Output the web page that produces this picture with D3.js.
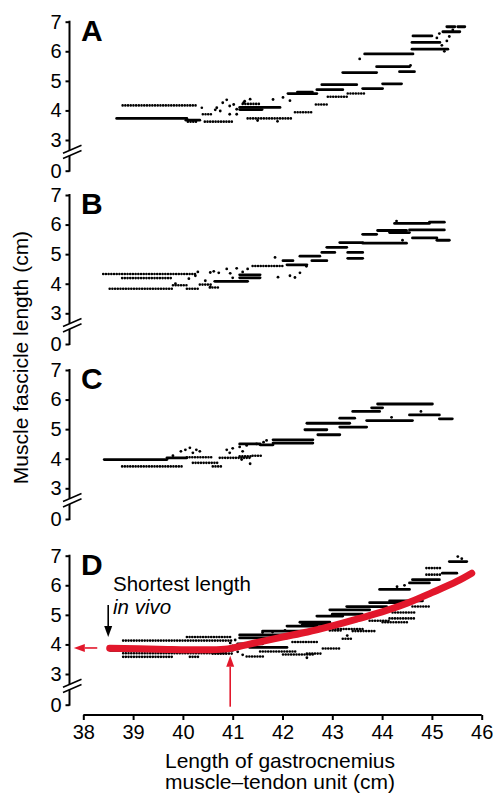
<!DOCTYPE html>
<html>
<head>
<meta charset="utf-8">
<script src="https://cdn.jsdelivr.net/npm/d3@7"></script>
<style>
    body { margin: 0; background: #fff; }
    text { font-family: "Liberation Sans", Arial, Helvetica, sans-serif; }
</style>
</head>
<body>
<script>
// x / y tick labels
const xTicks = [38, 39, 40, 41, 42, 43, 44, 45, 46];
const yTicks = [0, 3, 4, 5, 6, 7];
const panelNames = ["A", "B", "C", "D"];

const runsA = [[38.79, 40.28, 4.17], [40.38, 40.38, 4.09], [40.40, 40.60, 3.87], [40.44, 41.00, 3.62],
    [41.30, 42.21, 3.73], [42.25, 42.61, 3.94], [42.67, 42.91, 4.20], [42.91, 43.31, 4.46], [43.31, 43.65, 4.57],
    [40.10, 40.30, 3.62], [41.20, 41.55, 4.22]];
const bandsA = [[38.67, 40.08, 3.73], [40.06, 40.34, 3.67], [41.14, 41.95, 4.10], [41.14, 41.59, 4.03],
    [42.11, 42.69, 4.57], [42.69, 43.21, 4.70], [42.79, 43.49, 4.87], [43.61, 44.01, 4.74], [44.01, 44.39, 4.90],
    [43.21, 43.89, 5.28], [43.89, 44.55, 5.48], [44.35, 44.65, 5.31], [43.65, 44.62, 5.91], [44.60, 45.32, 6.07],
    [44.60, 45.16, 6.30], [44.62, 45.00, 6.52], [45.22, 45.56, 6.66], [45.30, 45.46, 6.83], [45.52, 45.66, 6.83],
    [42.30, 42.60, 4.62]];
const dotsA = [[40.68, 4.09], [40.80, 4.26], [40.94, 4.15], [41.08, 4.04], [41.22, 4.26], [40.94, 3.87], [41.08, 3.87],
    [40.65, 4.02], [40.88, 4.36], [41.24, 4.31], [41.35, 4.38], [41.81, 4.37], [42.01, 4.44], [42.15, 4.33],
    [43.55, 5.74], [44.57, 5.52], [45.10, 6.45], [45.20, 6.20], [45.25, 6.00], [45.15, 6.60], [45.30, 6.35],
    [41.90, 3.63], [41.50, 3.66], [40.75, 3.98], [41.02, 4.20], [45.35, 6.50], [45.42, 6.72]];

const runsB = [[38.40, 40.28, 4.33], [38.78, 39.80, 4.19], [38.53, 39.80, 3.83], [39.80, 40.08, 3.95],
    [40.08, 40.34, 3.83], [40.34, 40.60, 3.97], [40.54, 40.74, 3.87], [41.40, 42.01, 4.60]];
const bandsB = [[40.64, 41.30, 4.08], [41.14, 41.55, 4.30], [41.14, 41.55, 4.20], [42.01, 42.21, 4.78],
    [42.35, 42.75, 4.93], [42.59, 42.89, 4.78], [42.79, 43.05, 5.06], [42.89, 43.29, 5.23], [43.15, 43.61, 5.39],
    [43.31, 43.61, 5.06], [43.31, 43.61, 4.86], [43.61, 43.89, 5.67], [43.61, 44.49, 5.37], [43.91, 44.49, 5.80],
    [44.15, 44.55, 5.73], [44.25, 44.95, 6.04], [44.95, 45.25, 6.08], [44.55, 45.25, 5.82], [44.61, 45.10, 5.55],
    [45.10, 45.35, 5.47], [42.09, 42.49, 4.64]];
const dotsB = [[39.85, 4.00], [40.12, 4.17], [40.25, 4.27], [40.45, 4.10], [40.55, 4.38], [40.62, 4.42], [40.72, 4.37],
    [40.55, 3.89], [40.88, 4.50], [41.08, 4.52], [41.00, 4.20], [41.30, 4.50], [41.85, 4.89], [41.91, 4.22],
    [42.15, 4.27], [42.25, 4.21], [42.35, 4.37], [42.48, 4.59], [44.41, 5.47], [44.29, 6.12], [40.30, 4.40],
    [40.95, 4.35], [41.20, 4.40]];

const runsC = [[38.78, 40.00, 3.74], [40.08, 40.60, 4.05], [40.20, 40.74, 3.86], [40.60, 40.80, 3.74],
    [40.74, 41.34, 4.03], [41.14, 41.40, 4.08], [41.40, 41.61, 4.10]];
const bandsC = [[38.42, 39.68, 3.97], [39.68, 40.08, 4.03], [41.14, 41.55, 4.50], [41.55, 41.81, 4.47],
    [41.81, 42.61, 4.64], [41.81, 42.61, 4.53], [42.45, 42.89, 4.98], [42.49, 43.35, 5.20], [42.71, 43.15, 4.81],
    [43.15, 43.69, 5.07], [43.15, 43.45, 5.37], [43.41, 43.95, 5.60], [43.69, 44.61, 5.29], [43.91, 45.01, 5.85],
    [43.79, 44.01, 5.72], [44.55, 45.15, 5.48], [45.15, 45.41, 5.35]];
const dotsC = [[39.80, 4.10], [39.96, 4.25], [40.05, 4.30], [40.14, 4.37], [40.20, 4.20], [40.27, 4.30], [40.34, 4.25],
    [40.88, 4.30], [41.00, 4.35], [41.14, 4.40], [41.28, 4.45], [40.94, 4.20], [41.20, 4.25], [41.18, 3.97],
    [41.35, 3.83], [41.48, 4.50], [41.62, 4.56], [41.68, 4.62], [44.19, 5.40], [44.78, 5.60]];

const runsD = [[38.80, 41.00, 4.13], [38.80, 39.80, 3.58], [40.14, 40.34, 3.58], [40.60, 41.00, 3.69],
    [40.08, 41.00, 4.25], [41.28, 41.61, 3.59], [42.01, 42.61, 3.66], [42.49, 42.81, 3.69], [42.81, 43.15, 3.86],
    [43.21, 43.41, 4.19], [43.01, 43.61, 4.52], [43.41, 43.89, 4.45], [42.95, 43.21, 4.47], [43.75, 44.15, 4.80],
    [44.01, 44.55, 4.75], [44.15, 44.69, 4.88], [44.61, 44.95, 5.28], [44.21, 44.69, 5.08], [44.89, 45.21, 6.36],
    [44.89, 45.21, 6.58], [38.80, 40.90, 3.70], [41.55, 42.30, 3.76], [42.20, 42.70, 4.08]];
const bandsD = [[38.54, 41.00, 3.80], [41.14, 42.09, 4.22], [41.14, 42.09, 4.32], [42.09, 42.69, 4.62],
    [42.35, 42.95, 4.75], [42.69, 43.21, 4.96], [42.95, 43.75, 5.17], [43.29, 44.09, 5.28], [43.75, 44.41, 5.41],
    [44.15, 44.81, 5.47], [43.95, 44.55, 5.86], [44.55, 44.95, 6.08], [44.61, 45.15, 6.19], [45.21, 45.50, 6.41],
    [45.35, 45.70, 6.80], [41.34, 42.09, 3.90], [41.60, 42.40, 4.45], [42.40, 43.00, 4.68], [43.00, 43.60, 5.02],
    [41.10, 41.60, 4.02]];
const dotsD = [[45.52, 6.97], [45.60, 6.90], [41.00, 3.95], [41.10, 3.75], [41.20, 3.65], [42.49, 3.55], [43.30, 4.30],
    [44.45, 6.00], [41.60, 4.40], [41.80, 4.42], [42.05, 4.47], [40.95, 4.05], [41.05, 4.15], [44.30, 5.95]];

// fitted curve in panel D
const fitD = [[38.53, 3.87], [39.5, 3.84], [40.5, 3.82], [40.9, 3.85], [41.2, 3.96], [41.5, 4.07], [42.0, 4.25],
    [42.5, 4.42], [43.0, 4.63], [43.5, 4.86], [44.0, 5.10], [44.5, 5.39], [45.0, 5.75], [45.5, 6.13], [45.8, 6.41]];
const shortestX = 40.95;   // MTU length at shortest fascicle
const shortestY = 3.88;    // fascicle length read on the axis
const inVivoX = 38.5;      // shortest length in vivo

const width = 493, height = 793;
const red = "#e2172b";
const axisX = 69.5;
const panelTops = [21.7, 195, 370, 555.7];

let svg = d3.select("body")
    .append("svg")
    .attr("width", width)
    .attr("height", height);

let x = d3.scaleLinear().domain([38, 46]).range([83.3, 481.7]);

let panels = [
    { runs: runsA, bands: bandsA, dots: dotsA },
    { runs: runsB, bands: bandsB, dots: dotsB },
    { runs: runsC, bands: bandsC, dots: dotsC },
    { runs: runsD, bands: bandsD, dots: dotsD }
];

let yD;
panels.forEach((p, i) => {
    let top = panelTops[i];
    // broken axis: 0..3 squeezed under the break
    let y = d3.scaleLinear().domain([0, 3, 7]).range([top + 149, top + 118.3, top]);
    if (i === 3) yD = y;
    let g = svg.append("g");

    let ax = g.append("g")
        .attr("transform", `translate(${axisX},0)`)
        .call(d3.axisLeft(y).tickValues(yTicks).tickSize(4).tickPadding(4).tickFormat(d3.format("d")));
    ax.select(".domain").remove();
    ax.selectAll(".tick line").attr("stroke", "#000").attr("stroke-width", 2);
    ax.selectAll(".tick text")
        .attr("fill", "#000")
        .style("font-size", "20px")
        .style("font-family", "'Liberation Sans', Arial, sans-serif");

    g.append("line").attr("x1", axisX).attr("x2", axisX)
        .attr("y1", top - 1).attr("y2", top + 128.6)
        .attr("stroke", "#000").attr("stroke-width", 2);
    g.append("line").attr("x1", axisX).attr("x2", axisX)
        .attr("y1", top + 134).attr("y2", top + 150)
        .attr("stroke", "#000").attr("stroke-width", 2);
    // break marks
    [0, 5.3].forEach(o => {
        g.append("line")
            .attr("x1", 63).attr("y1", top + 131.6 + o)
            .attr("x2", 81.5).attr("y2", top + 123.5 + o)
            .attr("stroke", "#000").attr("stroke-width", 1.6);
    });

    g.append("text")
        .attr("x", 81).attr("y", top + 19)
        .attr("font-size", 30).attr("font-weight", "bold")
        .text(panelNames[i]);

    // dense runs
    g.selectAll(".band").data(p.bands).enter()
        .append("line")
        .attr("x1", d => x(d[0])).attr("x2", d => x(d[1]))
        .attr("y1", d => y(d[2])).attr("y2", d => y(d[2]))
        .attr("stroke", "#000").attr("stroke-width", 2.8)
        .attr("stroke-linecap", "round");
    // dotted runs
    g.selectAll(".run").data(p.runs).enter()
        .append("line")
        .attr("x1", d => x(d[0])).attr("x2", d => x(d[1]) + 0.01)
        .attr("y1", d => y(d[2])).attr("y2", d => y(d[2]))
        .attr("stroke", "#000").attr("stroke-width", 2.6)
        .attr("stroke-linecap", "round")
        .attr("stroke-dasharray", "0,2.7");
    g.selectAll(".dot").data(p.dots).enter()
        .append("circle")
        .attr("cx", d => x(d[0])).attr("cy", d => y(d[1]))
        .attr("r", 1.4).attr("fill", "#000");
});

// fitted curve
svg.append("path")
    .datum(fitD)
    .attr("d", d3.line().x(d => x(d[0])).y(d => yD(d[1])).curve(d3.curveCatmullRom))
    .attr("fill", "none")
    .attr("stroke", red)
    .attr("stroke-width", 7)
    .attr("stroke-linecap", "round");

// arrows
function arrow(x1, y1, x2, y2, color) {
    let a = Math.atan2(y2 - y1, x2 - x1), L = 11, W = 4;
    let bx = x2 - L * Math.cos(a), by = y2 - L * Math.sin(a);
    svg.append("line").attr("x1", x1).attr("y1", y1).attr("x2", bx).attr("y2", by)
        .attr("stroke", color).attr("stroke-width", 1.6);
    let px = -Math.sin(a) * W, py = Math.cos(a) * W;
    svg.append("path")
        .attr("d", `M${x2},${y2}L${bx + px},${by + py}L${bx - px},${by - py}Z`)
        .attr("fill", color);
}
arrow(x(shortestX), yD(0) + 2, x(shortestX), yD(3.62), red);
arrow(x(38.28), yD(shortestY), x(37.81), yD(shortestY), red);
arrow(x(inVivoX), yD(5.33), x(inVivoX), yD(4.25), "#000");

svg.append("text").attr("x", 113).attr("y", 591).attr("font-size", 20.5).text("Shortest length");
svg.append("text").attr("x", 113).attr("y", 613.5).attr("font-size", 20.5)
    .attr("font-style", "italic").text("in vivo");

// x axis
let xa = svg.append("g")
    .attr("transform", "translate(0,715)")
    .call(d3.axisBottom(x).tickValues(xTicks).tickSize(5).tickPadding(5).tickFormat(d3.format("d")));
xa.select(".domain").attr("stroke", "#000").attr("stroke-width", 2)
    .attr("d", `M${x(38)},0H${x(46)}`);
xa.selectAll(".tick line").attr("stroke", "#000").attr("stroke-width", 2);
xa.selectAll(".tick text")
    .attr("fill", "#000")
    .style("font-size", "20px")
    .style("font-family", "'Liberation Sans', Arial, sans-serif");

let xt = svg.append("text").attr("x", 280).attr("y", 767.5).attr("font-size", 21)
    .attr("text-anchor", "middle");
xt.append("tspan").text("Length of gastrocnemius");
xt.append("tspan").attr("x", 280).attr("dy", 21).text("muscle\u2013tendon unit (cm)");

svg.append("text")
    .attr("transform", "translate(28,357.5) rotate(-90)")
    .attr("font-size", 21)
    .attr("text-anchor", "middle")
    .text("Muscle fascicle length (cm)");
</script>
</body>
</html>
